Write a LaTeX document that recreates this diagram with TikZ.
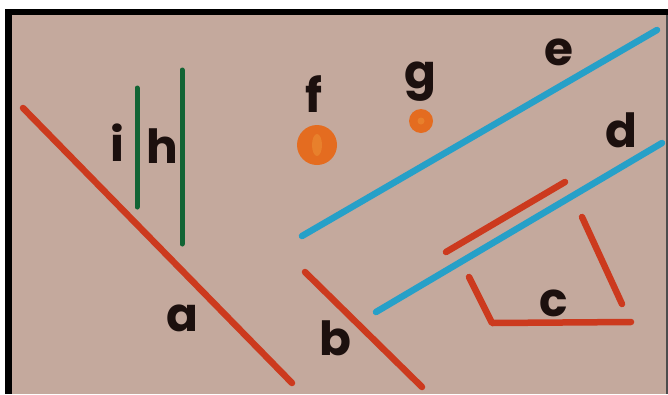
\documentclass[tikz,border=0pt]{standalone}
\usepackage{fontspec}
\setmainfont{Poppins}
\begin{document}
\begin{tikzpicture}[x=1pt,y=-1pt,
  redline/.style={draw=redc,line width=6.5pt,line cap=round,line join=round},
  blueline/.style={draw=bluec,line width=6.5pt,line cap=round},
  greenline/.style={draw=greenc,line width=5pt,line cap=round},
  lab/.style={text=inkc,font=\bfseries\fontsize{47}{47}\selectfont,inner sep=0pt,anchor=base},
  dot/.style={circle,inner sep=0pt,fill=orangec}]
\definecolor{bgc}{RGB}{196,169,157}
\definecolor{redc}{RGB}{204,58,30}
\definecolor{bluec}{RGB}{38,160,200}
\definecolor{greenc}{RGB}{18,100,52}
\definecolor{inkc}{RGB}{28,16,14}
\definecolor{orangec}{RGB}{228,108,32}
\definecolor{corec}{RGB}{232,128,44}
\useasboundingbox (0,0) rectangle (668,394);
\fill[bgc] (0,0) rectangle (668,394);
\fill[white] (0,0) rectangle (668,9);
\fill[white] (0,0) rectangle (5,394);
\fill[black] (5,9) rectangle (668,15);
\fill[black] (5,9) rectangle (12,394);
\fill[black!70] (666,15) rectangle (668,394);
% lines
\draw[redline] (23,108) -- (292,383);
\draw[redline] (305,272) -- (422,387);
\draw[redline] (446,252) -- (565,182);
\draw[redline] (469,277) -- (492,323) -- (631,322);
\draw[redline] (582,217) -- (622,304);
\draw[blueline] (302,236) -- (657,30);
\draw[blueline] (376,312) -- (662,143);
\draw[greenline] (137,88) -- (137,207);
\draw[greenline] (182,70) -- (182,244);
% dots
\node[dot,minimum size=40pt] (fdot) at (317,145) {};
\fill[corec] (fdot.center) ellipse (5 and 11);
\node[dot,minimum size=24pt] (gdot) at (421,121) {};
\fill[corec] (gdot.center) circle (3.5);
% labels
\node[lab] (la) at (182,331) {a};
\node[lab] (lb) at (335,355) {b};
\node[lab] (lc) at (554,316) {c};
\node[lab] (ld) at (621,147) {d};
\node[lab] (le) at (559,65) {e};
\node[lab] (lf) at (314,112) {f};
\node[lab] (lg) at (420,88) {g};
\node[lab] (lh) at (162,163) {h};
\node[lab] (li) at (117,161) {i};
\end{tikzpicture}
\end{document}
